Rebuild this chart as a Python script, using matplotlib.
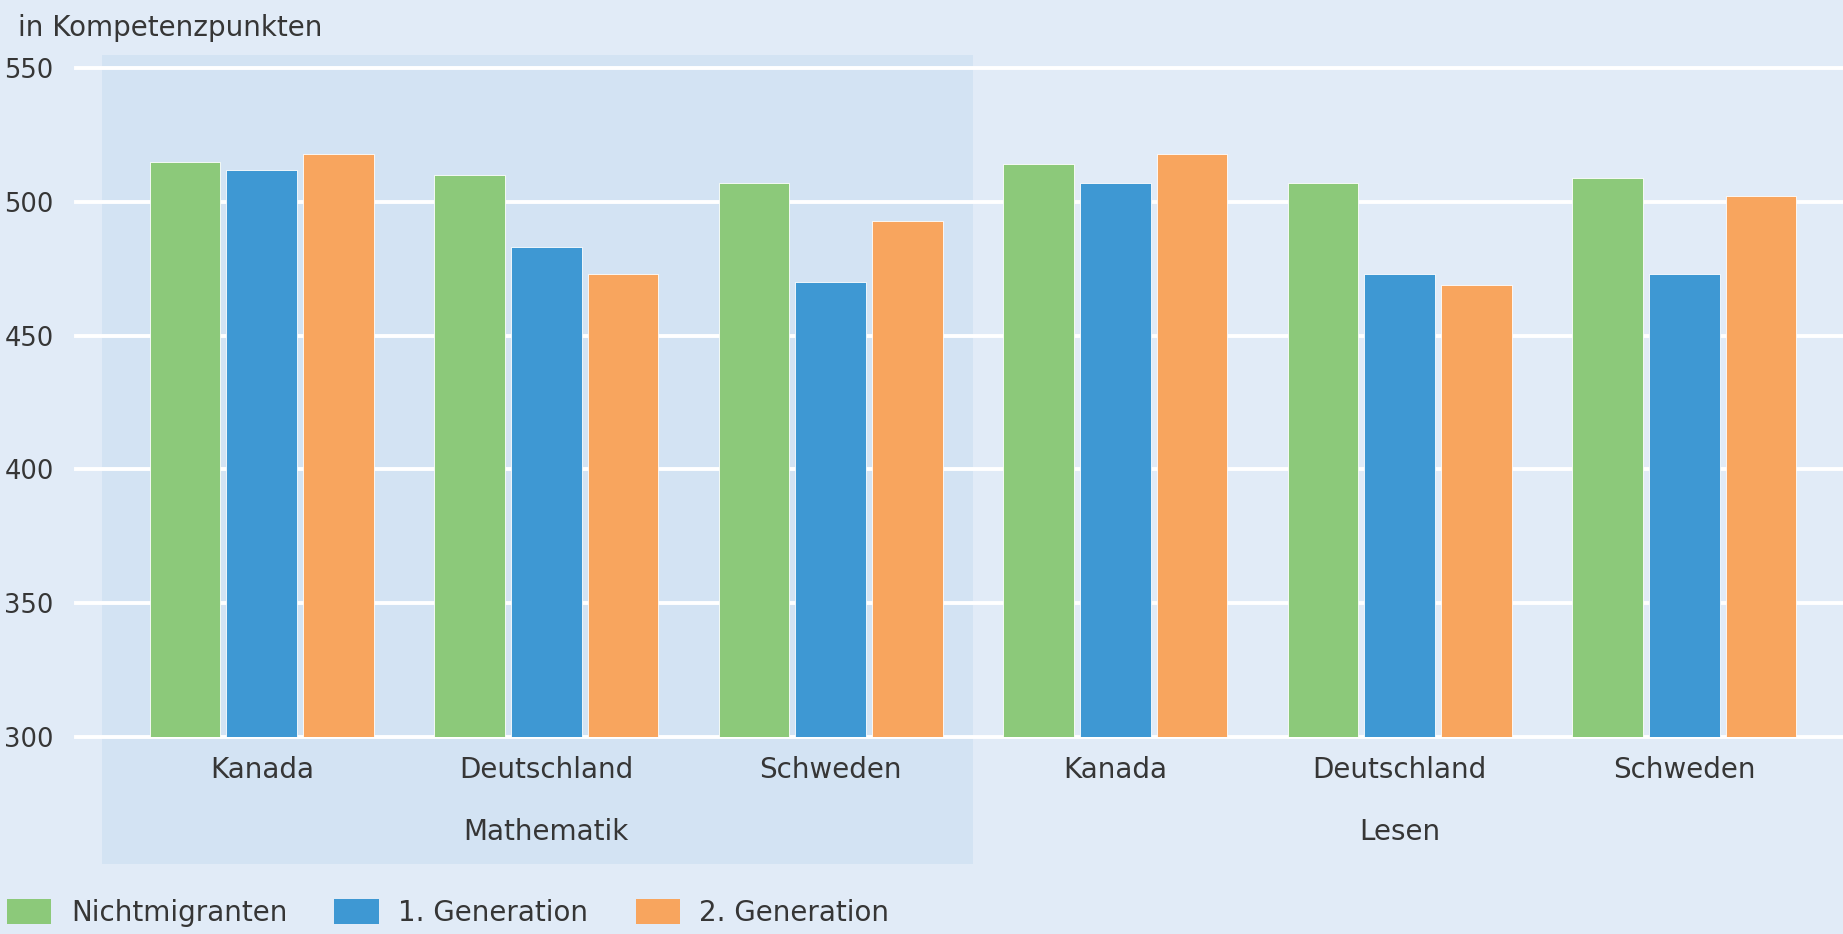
import numpy as np
import matplotlib
matplotlib.use("Agg")
import matplotlib.pyplot as plt
from matplotlib.patches import Rectangle, Patch

# values (Kompetenzpunkte)
countries = ["Kanada", "Deutschland", "Schweden", "Kanada", "Deutschland", "Schweden"]
domains = ["Mathematik", "Lesen"]
series = ["Nichtmigranten", "1. Generation", "2. Generation"]
nichtmigranten = [515, 510, 507, 514, 507, 509]
generation1 = [512, 483, 470, 507, 473, 473]
generation2 = [518, 473, 493, 518, 469, 502]
yticks = [300, 350, 400, 450, 500, 550]

colors = ["#8CC97A", "#3E98D3", "#F8A55E"]
bg = "#E1EBF7"
shade = "#D3E3F3"
txt = "#363636"

plt.rcParams['font.family'] = ['DejaVu Sans']

fig = plt.figure(figsize=(18.43, 9.34), dpi=100, facecolor=bg)
ax = fig.add_axes([76/1843, 1-737/934, 1-76/1843, (737-68)/934])
ax.set_facecolor(bg)
for s in ax.spines.values():
    s.set_visible(False)

x = np.arange(len(countries))
ax.set_xlim(-0.653, 5.558)
ax.set_ylim(300, 550)

# shaded Mathematik block
ax.add_patch(Rectangle((-0.562, -0.19), 2.5 + 0.562, 1.21, transform=ax.get_xaxis_transform(),
                       facecolor=shade, edgecolor="none", zorder=0, clip_on=False))

for yv in yticks:
    ax.axhline(yv, color="white", lw=2.8, zorder=1, clip_on=False)

w = 0.248
off = 0.27
for i, vals in enumerate([nichtmigranten, generation1, generation2]):
    ax.bar(x + (i - 1) * off, np.array(vals) - 300, width=w, bottom=300, color=colors[i],
           edgecolor="white", linewidth=0.6, zorder=2)

ax.set_yticks(yticks)
ax.set_yticklabels([str(v) for v in yticks], fontsize=18.5, color=txt)
ax.set_xticks(x)
ax.set_xticklabels(countries, fontsize=20, color=txt)
ax.tick_params(axis="both", length=0)
ax.tick_params(axis="y", pad=16)
ax.tick_params(axis="x", pad=14)

for pos, name in zip([1, 4], domains):
    ax.text(pos, -0.142, name, transform=ax.get_xaxis_transform(), ha="center", va="center",
            fontsize=20, color=txt)

fig.text(18/1843, 1-28/934, "in Kompetenzpunkten", fontsize=20, color=txt, va="center", ha="left")

handles = [Patch(facecolor=c, edgecolor="none") for c in colors]
fig.legend(handles, series, loc="lower left", bbox_to_anchor=(0.0, 0.0), ncol=3, frameon=False,
           fontsize=20, labelcolor=txt, handlelength=1.6, handleheight=1.05, handletextpad=0.7,
           columnspacing=1.7, borderaxespad=0.05, borderpad=0.2)

fig.savefig("out.png", dpi=100, facecolor=bg)
